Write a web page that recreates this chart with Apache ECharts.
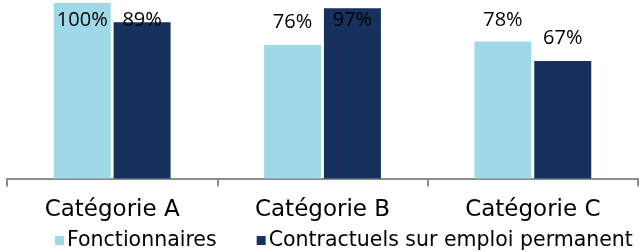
<!DOCTYPE html>
<html>
<head>
<meta charset="utf-8">
<script src="https://cdn.jsdelivr.net/npm/echarts@6/dist/echarts.min.js"></script>
<style>
  html, body { margin: 0; padding: 0; background: #fff; }
  #chart { width: 640px; height: 252px; }
</style>
</head>
<body>
<div id="chart"></div>
<script>
// données
var categories = ['Catégorie A', 'Catégorie B', 'Catégorie C'];
var fonctionnaires = [100, 76, 78];
var contractuels = [89, 97, 67];
var seriesNames = ['Fonctionnaires', 'Contractuels sur emploi permanent'];

var chart = echarts.init(document.getElementById('chart'), null, { renderer: 'canvas' });

var barLabel = {
  show: true,
  position: 'top',
  distance: 13,
  formatter: '{c}%',
  color: '#000',
  fontFamily: 'Open Sans',
  fontSize: 20
};

var option = {
  animation: false,
  grid: { left: 7, right: 2, top: 3, bottom: 73.5, containLabel: false },
  legend: {
    data: seriesNames,
    left: 50,
    top: 225,
    width: 700,
    icon: 'rect',
    itemWidth: 9,
    itemHeight: 9,
    itemGap: 40,
    textStyle: { color: '#000', fontFamily: 'DejaVu Sans', fontSize: 20.5, padding: [0, 0, 0, -2] }
  },
  xAxis: {
    type: 'category',
    data: categories,
    axisLine: { lineStyle: { color: '#8c8c8c', width: 2 } },
    axisTick: { show: true, length: 8, lineStyle: { color: '#8c8c8c', width: 2 } },
    axisLabel: { color: '#000', fontFamily: 'DejaVu Sans', fontSize: 23, margin: 20 }
  },
  yAxis: {
    type: 'value',
    min: 0,
    max: 100,
    show: false,
    splitLine: { show: false }
  },
  labelLayout: function (params) {
    // les étiquettes qui sortiraient en haut sont ramenées dans la zone
    var minTop = 10;
    if (params.labelRect.y < minTop) {
      return { dy: minTop - params.labelRect.y };
    }
    return {};
  },
  series: [
    {
      name: seriesNames[0],
      type: 'bar',
      data: fonctionnaires,
      barWidth: 57,
      barGap: '5%',
      label: barLabel,
      itemStyle: { color: '#9fd8e6' }
    },
    {
      name: seriesNames[1],
      type: 'bar',
      data: contractuels,
      barWidth: 57,
      barGap: '5%',
      label: barLabel,
      itemStyle: { color: '#16325c' }
    }
  ]
};
chart.setOption(option);
</script>
</body>
</html>
